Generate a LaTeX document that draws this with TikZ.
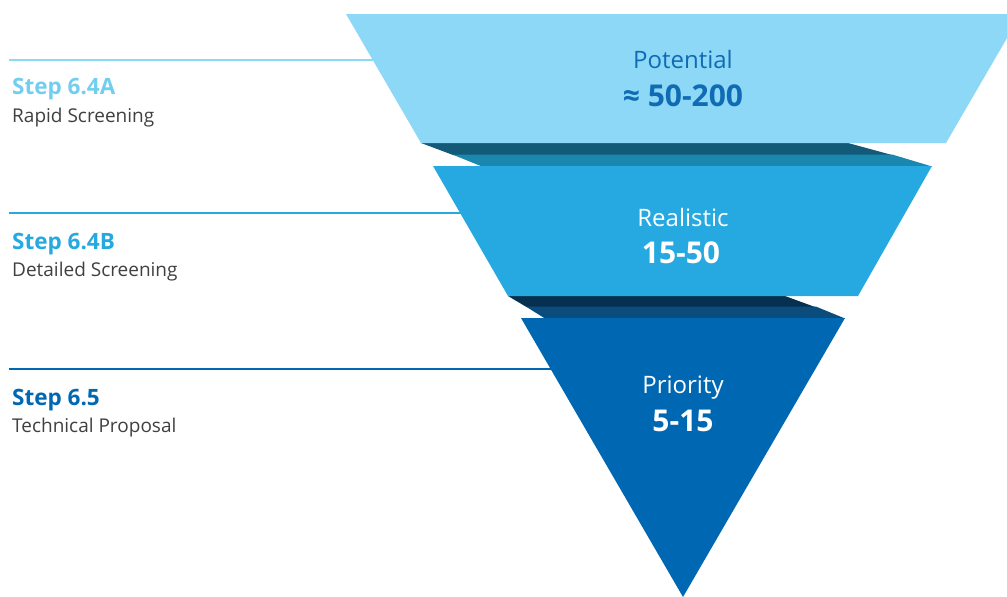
\documentclass[tikz,border=0pt]{standalone}
\usepackage{fontspec}
\setmainfont{Open Sans}
\definecolor{cTop}{HTML}{8DD8F6}
\definecolor{cMid}{HTML}{25A9E0}
\definecolor{cLow}{HTML}{0068B2}
\definecolor{cBandAdark}{HTML}{125A78}
\definecolor{cBandAlight}{HTML}{1A87AF}
\definecolor{cBandBdark}{HTML}{06304F}
\definecolor{cBandBlight}{HTML}{0A4D7C}
\definecolor{cPot}{HTML}{0F6BB3}
\definecolor{cStepA}{HTML}{72CEF0}
\definecolor{cGrey}{HTML}{404040}
\tikzset{
  stagename/.style={anchor=base, inner sep=0pt, font=\fontsize{24}{28}\selectfont},
  stagenum/.style={anchor=base, inner sep=0pt, font=\fontsize{30}{34}\selectfont\bfseries},
  steptitle/.style={anchor=base west, inner sep=0pt, font=\fontsize{22.5}{26}\selectfont\bfseries},
  stepdesc/.style={anchor=base west, inner sep=0pt, text=cGrey, font=\fontsize{19}{24}\selectfont},
  guide/.style={line width=2pt},
}
\begin{document}
\begin{tikzpicture}[x=1pt,y=-1pt]
\useasboundingbox (0,0) rectangle (1007,597);
\clip (0,0) rectangle (1007,597);
% guide lines (behind funnel)
\coordinate (la) at (9,59.5);  \coordinate (ra) at (380,59.5);
\coordinate (lb) at (9,213);   \coordinate (rb) at (470,213);
\coordinate (lc) at (9,369);   \coordinate (rc) at (560,369);
\draw[guide, cTop] (la) -- (ra);
\draw[guide, cMid] (lb) -- (rb);
\draw[guide, cLow] (lc) -- (rc);
% shadow bands
\fill[cBandAdark] (421,143) -- (848,143) -- (892,155) -- (453,155) -- cycle;
\fill[cBandAlight] (452.5,154.6) -- (892.5,154.6) -- (932,166.5) -- (482,166.5) -- cycle;
\fill[cBandBdark] (508,296) -- (785,296) -- (815,307) -- (526.5,307) -- cycle;
\fill[cBandBlight] (526,306.6) -- (816,306.6) -- (845,318.5) -- (545,318.5) -- cycle;
% funnel stages
\fill[cTop] (346,14) -- (1021,14) -- (946,143) -- (421,143) -- cycle;
\fill[cMid] (433,166) -- (932,166) -- (858,296) -- (508,296) -- cycle;
\fill[cLow] (521,318) -- (845,318) -- (683,597) -- cycle;
% stage texts
\node[stagename, text=cPot] (potname) at (683,68.5) {Potential};
\node[stagenum, text=cPot] (potnum) at (683,106) {≈ 50-200};
\node[stagename, text=white] (realname) at (683,226.5) {Realistic};
\node[stagenum, text=white] (realnum) at (681,263.5) {15-50};
\node[stagename, text=white] (prioname) at (683,393.5) {Priority};
\node[stagenum, text=white] (prionum) at (683,431) {5-15};
% step labels
\node[steptitle, text=cStepA] (stepa) at (12,94.5) {Step 6.4A};
\node[stepdesc] (desca) at (12,122.5) {Rapid Screening};
\node[steptitle, text=cMid] (stepb) at (12,249) {Step 6.4B};
\node[stepdesc] (descb) at (12,276.5) {Detailed Screening};
\node[steptitle, text=cLow] (stepc) at (12,405) {Step 6.5};
\node[stepdesc] (descc) at (12,432) {Technical Proposal};
\end{tikzpicture}
\end{document}
